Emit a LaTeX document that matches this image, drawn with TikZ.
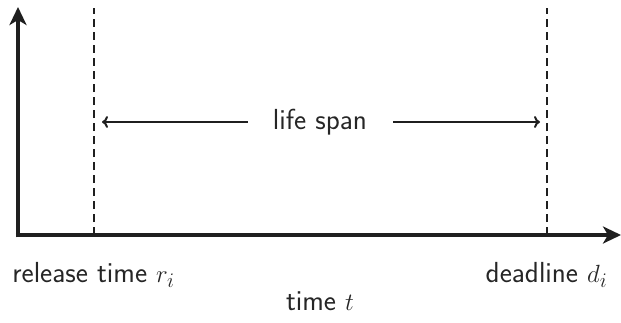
\documentclass[tikz,border=0pt]{standalone}
\usetikzlibrary{arrows.meta}
\begin{document}
\begin{tikzpicture}[x=1pt,y=1pt,
  ink/.style={color=black!88},
  axis/.style={ink,line width=4.5pt,-{Stealth[length=18pt,width=17pt,inset=5pt]}},
  guide/.style={ink,line width=2.6pt,dash pattern=on 8pt off 5pt},
  span/.style={ink,line width=2pt,-{To[length=6pt,width=12pt]}},
  lbl/.style={text=black!85,font=\sffamily\fontsize{29}{34}\selectfont,inner sep=0pt}]
\useasboundingbox (0,0) rectangle (621,322);
\coordinate (O) at (18,87);
\coordinate (ytop) at (18,315);
\coordinate (xend) at (621,87);
\coordinate (rb) at (94,87);
\coordinate (rt) at (94,314);
\coordinate (db) at (547,87);
\coordinate (dt) at (547,314);
\draw[guide] (rb) -- (rt);
\draw[guide] (db) -- (dt);
\draw[axis] ([yshift=-2.25pt]O) -- (ytop);
\draw[axis] ([xshift=-2.25pt]O) -- (xend);
\node[lbl] (life) at (320,200) {life span};
\coordinate (la) at (102,200);
\coordinate (ra) at (540,200);
\draw[span] ([xshift=-25pt]life.west) -- (la);
\draw[span] ([xshift=26pt]life.east) -- (ra);
\node[lbl,anchor=base] (rel) at (93.5,40) {release time $r_i$};
\node[lbl,anchor=base] (dl) at (546.5,40) {deadline $d_i$};
\node[lbl,anchor=base] (tt) at (320,12) {time $t$};
\end{tikzpicture}
\end{document}
